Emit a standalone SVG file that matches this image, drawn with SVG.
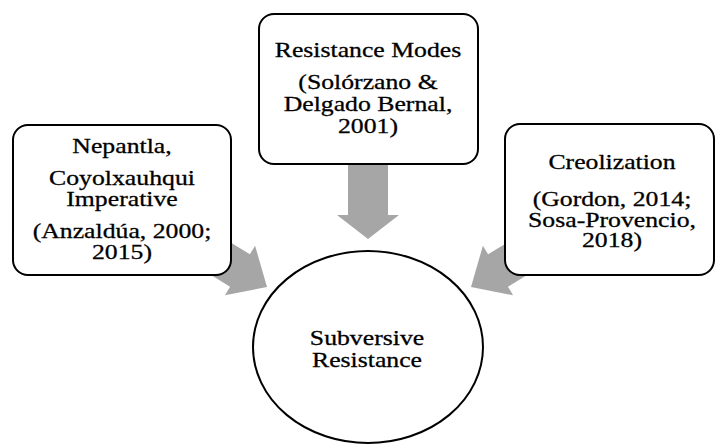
<svg xmlns="http://www.w3.org/2000/svg" width="716" height="444" viewBox="0 0 716 444">
  <style>
    .box { fill: #ffffff; stroke: #000000; stroke-width: 2; }
    .arrow { fill: #a6a6a6; stroke: none; }
    .t { font-family: "Liberation Serif", "Times New Roman", serif; font-size: 22px; fill: #000000; stroke: #000000; stroke-width: 0.3; text-anchor: middle; }
  </style>
  <rect x="0" y="0" width="716" height="444" fill="#ffffff"/>
  <g id="connectors">
    <polygon class="arrow" points="348,160 388,160 388,215 399,215 368,239 337,215 348,215"/>
    <polygon class="arrow" points="207.2,228.2 249.9,254.3 255.1,245.7 267,287 224.9,295.3 230.1,286.7 187.4,260.6"/>
    <polygon class="arrow" points="530.8,228.2 488.1,254.3 482.9,245.7 471,287 513.1,295.3 507.9,286.7 550.6,260.6"/>
  </g>
  <g id="node-nepantla">
    <rect class="box" x="13" y="125" width="218" height="150" rx="15" ry="15"/>
    <g transform="translate(122,0) scale(1.17,1)">
      <text class="t" x="0" y="153">Nepantla,</text>
      <text class="t" x="0" y="185">Coyolxauhqui</text>
      <text class="t" x="0" y="206">Imperative</text>
      <text class="t" x="0" y="238">(Anzaldúa, 2000;</text>
      <text class="t" x="0" y="259">2015)</text>
    </g>
  </g>
  <g id="node-resistance-modes">
    <rect class="box" x="259" y="14" width="219" height="150" rx="15" ry="15"/>
    <g transform="translate(368,0) scale(1.17,1)">
      <text class="t" x="0" y="57">Resistance Modes</text>
      <text class="t" x="0" y="89">(Solórzano &amp;</text>
      <text class="t" x="0" y="111">Delgado Bernal,</text>
      <text class="t" x="0" y="133">2001)</text>
    </g>
  </g>
  <g id="node-creolization">
    <rect class="box" x="505" y="124" width="209" height="151" rx="15" ry="15"/>
    <g transform="translate(612,0) scale(1.17,1)">
      <text class="t" x="0" y="169">Creolization</text>
      <text class="t" x="0" y="206">(Gordon, 2014;</text>
      <text class="t" x="0" y="227">Sosa-Provencio,</text>
      <text class="t" x="0" y="247">2018)</text>
    </g>
  </g>
  <g id="node-subversive-resistance">
    <ellipse class="box" cx="368" cy="347" rx="115" ry="96"/>
    <g transform="translate(367,0) scale(1.17,1)">
      <text class="t" x="0" y="345">Subversive</text>
      <text class="t" x="0" y="367">Resistance</text>
    </g>
  </g>
</svg>
